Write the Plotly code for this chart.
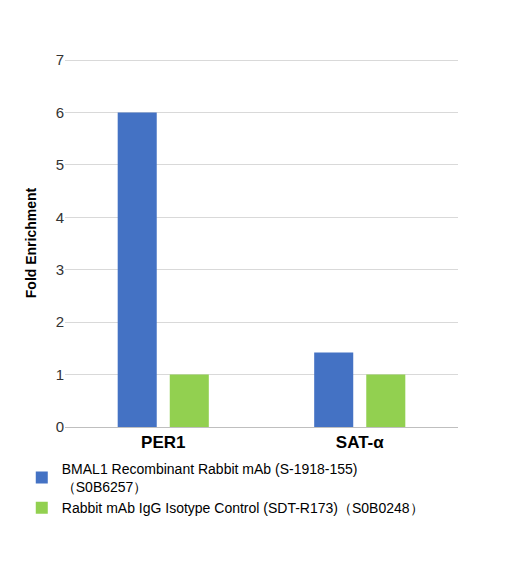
import plotly.graph_objects as go

categories = ["PER1", "SAT-α"]
bmal1_values = [6.0, 1.42]
igg_values = [1.0, 1.0]
series_names = [
    "BMAL1 Recombinant Rabbit mAb (S-1918-155)<br>（S0B6257）",
    "Rabbit mAb IgG Isotype Control (SDT-R173)（S0B0248）",
]

fig = go.Figure()
fig.add_trace(go.Bar(x=categories, y=bmal1_values, name=series_names[0],
                     marker=dict(color="#4472C4", line=dict(width=0))))
fig.add_trace(go.Bar(x=categories, y=igg_values, name=series_names[1],
                     marker=dict(color="#92D050", line=dict(width=0))))

fig.update_layout(
    width=531, height=565,
    margin=dict(l=57, r=81, t=51, b=146),
    plot_bgcolor="white", paper_bgcolor="white",
    font=dict(family="Liberation Sans, Arial", color="#000"),
    barmode="group", bargap=0.47, bargroupgap=0.25,
    yaxis=dict(range=[0, 7.02], dtick=1, gridcolor="#d9d9d9", zeroline=False,
               tickfont=dict(size=15, color="#333"),
               title=dict(text="<b>Fold Enrichment</b>", font=dict(size=14))),
    xaxis=dict(showline=True, linecolor="#bfbfbf", ticks="",
               tickfont=dict(size=17), tickvals=categories,
               ticktext=["<b>PER1</b>", "<b>SAT-α</b>"]),
    legend=dict(x=-0.11, y=-0.07, xanchor="left", yanchor="top",
                font=dict(size=14), tracegroupgap=28, itemwidth=30,
                traceorder="normal"),
)

fig.write_html("out.html")
